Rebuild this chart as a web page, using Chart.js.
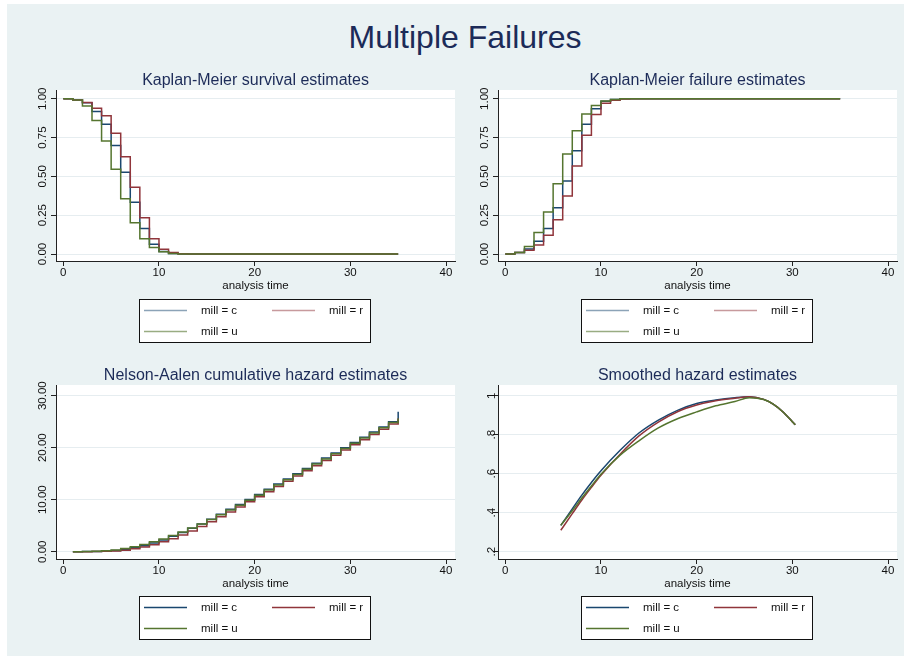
<!DOCTYPE html>
<html>
<head>
<meta charset="utf-8">
<script src="https://cdn.jsdelivr.net/npm/chart.js@4.4.0/dist/chart.umd.min.js"></script>
<style>
html,body{margin:0;padding:0;background:#fff;}
body{width:911px;height:666px;position:relative;overflow:hidden;font-family:"Liberation Sans",Arial,Helvetica,sans-serif;}
#bg{position:absolute;left:7px;top:4px;width:897px;height:652px;background:#eaf2f3;}
#main{position:absolute;left:0;width:930px;top:17px;text-align:center;font-size:32px;line-height:40px;color:#1c2b58;}
canvas{position:absolute;}
</style>
</head>
<body>
<div id="bg"></div>
<div id="main">Multiple Failures</div>
<canvas id="p1" width="460" height="295" style="left:0px;top:60px"></canvas>
<canvas id="p2" width="460" height="295" style="left:442px;top:60px"></canvas>
<canvas id="p3" width="460" height="295" style="left:0px;top:355px"></canvas>
<canvas id="p4" width="460" height="295" style="left:442px;top:355px"></canvas>
<script>
// ---------------- data ----------------
const mills = ['mill = c', 'mill = r', 'mill = u'];

const kmTime = [0, 1, 2, 3, 4, 5, 6, 7, 8, 9, 10, 11, 12, 13, 35];
const kmSurvC = [1, 0.991, 0.974, 0.918, 0.835, 0.698, 0.527, 0.334, 0.165, 0.063, 0.016, 0.004, 0, 0, 0];
const kmSurvR = [1, 0.991, 0.975, 0.938, 0.890, 0.777, 0.626, 0.430, 0.234, 0.099, 0.031, 0.009, 0.002, 0, 0];
const kmSurvU = [1, 0.991, 0.953, 0.859, 0.727, 0.546, 0.355, 0.202, 0.098, 0.042, 0.014, 0.004, 0, 0, 0];

const kmFailC = [0, 0.009, 0.032, 0.082, 0.165, 0.298, 0.470, 0.665, 0.835, 0.936, 0.983, 0.995, 1, 1, 1];
const kmFailR = [0, 0.009, 0.024, 0.058, 0.120, 0.221, 0.373, 0.567, 0.764, 0.899, 0.970, 0.990, 0.998, 1, 1];
const kmFailU = [0, 0.009, 0.049, 0.139, 0.270, 0.453, 0.644, 0.794, 0.901, 0.957, 0.985, 0.995, 1, 1, 1];

const naTime = [1, 2, 3, 4, 5, 6, 7, 8, 9, 10, 11, 12, 13, 14, 15, 16, 17, 18, 19, 20, 21, 22, 23, 24, 25, 26, 27, 28, 29, 30, 31, 32, 33, 34, 35];
const naC = [0.00, 0.02, 0.06, 0.13, 0.25, 0.45, 0.75, 1.15, 1.65, 2.25, 2.95, 3.70, 4.50, 5.35, 6.25, 7.20, 8.15, 9.10, 10.05, 11.00, 12.00, 13.00, 14.00, 15.00, 16.00, 17.00, 18.00, 19.00, 20.00, 21.00, 22.00, 23.00, 24.00, 25.00, 26.90];
const naR = [0.00, 0.01, 0.03, 0.07, 0.15, 0.30, 0.55, 0.90, 1.35, 1.90, 2.50, 3.20, 4.00, 4.85, 5.75, 6.70, 7.65, 8.60, 9.60, 10.55, 11.55, 12.55, 13.55, 14.55, 15.55, 16.55, 17.55, 18.55, 19.55, 20.55, 21.55, 22.55, 23.55, 24.55, 25.60];
const naU = [0.00, 0.02, 0.08, 0.18, 0.35, 0.60, 0.95, 1.40, 1.90, 2.45, 3.10, 3.80, 4.55, 5.35, 6.20, 7.10, 8.00, 8.95, 9.90, 10.85, 11.85, 12.85, 13.85, 14.85, 15.85, 16.85, 17.85, 18.85, 19.85, 20.85, 21.85, 22.85, 23.85, 24.85, 25.60];

const shTime = [5.8, 7, 8, 9, 10, 12, 14, 16, 18, 20, 22, 24, 25.5, 27, 28, 29, 30, 30.3];
const shC = [0.335, 0.420, 0.490, 0.555, 0.615, 0.720, 0.810, 0.875, 0.925, 0.960, 0.978, 0.990, 0.995, 0.981, 0.957, 0.918, 0.867, 0.851];
const shR = [0.310, 0.395, 0.465, 0.530, 0.592, 0.700, 0.795, 0.865, 0.918, 0.952, 0.974, 0.987, 0.995, 0.981, 0.957, 0.918, 0.867, 0.851];
const shU = [0.335, 0.410, 0.475, 0.537, 0.597, 0.695, 0.770, 0.835, 0.882, 0.917, 0.948, 0.970, 0.990, 0.981, 0.957, 0.918, 0.867, 0.851];

const xTickValues = [0, 10, 20, 30, 40];
const xTickLabels = ['0', '10', '20', '30', '40'];
const kmYTickValues = [0, 0.25, 0.5, 0.75, 1];
const kmYTickLabels = ['0.00', '0.25', '0.50', '0.75', '1.00'];
const naYTickValues = [0, 10, 20, 30];
const naYTickLabels = ['0.00', '10.00', '20.00', '30.00'];
const shYTickValues = [0.2, 0.4, 0.6, 0.8, 1];
const shYTickLabels = ['.2', '.4', '.6', '.8', '1'];

// ---------------- style ----------------
const FONT = '"Liberation Sans", Arial, Helvetica, sans-serif';
const FS = 11.5;
const TICK_LEN = 5;
const TXT = '#111111';
const NAVY = '#1c2b58';
const colors = ['#1a476f', '#90353b', '#55752f'];
const colorsFaded = ['rgba(26,71,111,0.5)', 'rgba(144,53,59,0.5)', 'rgba(85,117,47,0.6)'];
const LEG_PAD = 9.5;
const LEG_GAP = 25.4;
const LEG_LINE = 43;

function yPad(labels, offset) {
  const c = document.createElement('canvas').getContext('2d');
  c.font = FS + 'px ' + FONT;
  const w = Math.max.apply(null, labels.map(l => c.measureText(l).width));
  return offset - TICK_LEN - w / 2;
}

const frame = {
  id: 'frame',
  beforeDraw(chart, args, o) {
    const ctx = chart.ctx, ca = chart.chartArea;
    ctx.save();
    ctx.fillStyle = '#ffffff';
    ctx.fillRect(ca.left, ca.top, ca.right - ca.left, ca.bottom - ca.top);
    const bx = ca.left + o.boxDx, by = o.boxTop;
    ctx.fillRect(bx, by, o.boxW, o.boxH);
    ctx.strokeStyle = '#111';
    ctx.lineWidth = 1;
    ctx.strokeRect(Math.round(bx) + 0.5, Math.round(by) + 0.5, o.boxW, o.boxH);
    ctx.restore();
    const lg = chart.legend;
    lg.left = bx + 5 - LEG_PAD - LEG_GAP;
    lg.right = bx + o.boxW + 10;
    lg.top = by + o.row1 - LEG_PAD - FS / 2;
    lg.bottom = by + o.boxH;
    lg.width = lg.right - lg.left;
    lg.height = lg.bottom - lg.top;
  }
};

function makeChart(id, cfg) {
  const datasets = cfg.series.map((ys, i) => ({
    label: mills[i],
    data: cfg.time.map((t, j) => ({x: t, y: ys[j]})),
    borderColor: colors[i],
    borderWidth: 1.5,
    pointRadius: 0,
    fill: false,
    stepped: cfg.stepped ? 'before' : false,
    cubicInterpolationMode: cfg.stepped ? 'default' : 'monotone',
    order: 3 - i
  }));
  const legColors = cfg.faded ? colorsFaded : colors;
  return new Chart(document.getElementById(id), {
    type: 'line',
    data: {datasets},
    plugins: [frame],
    options: {
      responsive: false,
      animation: false,
      events: [],
      layout: {padding: {top: 0, left: 0, right: 5, bottom: cfg.padBottom}},
      plugins: {
        frame: {boxDx: 83, boxTop: cfg.boxTop, boxW: 231, boxH: 43, row1: 11.5},
        tooltip: {enabled: false},
        title: {
          display: true, text: cfg.title, fullSize: false, color: NAVY,
          font: {family: FONT, size: 16, weight: 'normal', lineHeight: 1},
          padding: {top: 13, bottom: 1}
        },
        legend: {
          display: true, position: 'bottom', align: 'start',
          labels: {
            font: {family: FONT, size: FS},
            color: TXT, padding: LEG_PAD,
            boxWidth: LEG_GAP + LEG_LINE + 14 - FS / 2, boxHeight: 0,
            generateLabels: (chart) => chart.data.datasets.map((ds, i) => ({
              text: ds.label, fillStyle: 'rgba(0,0,0,0)', strokeStyle: legColors[i],
              lineWidth: 1.3, lineDash: [0, LEG_GAP, LEG_LINE, 600], lineCap: 'butt',
              hidden: false, datasetIndex: i, fontColor: TXT
            }))
          }
        }
      },
      scales: {
        x: {
          type: 'linear', min: -0.763, max: 40.94,
          afterBuildTicks: (ax) => { ax.ticks = xTickValues.map(v => ({value: v})); },
          afterFit: (ax) => { ax.height = 32; },
          ticks: {autoSkip: false, maxRotation: 0, padding: 0, color: TXT,
                  font: {family: FONT, size: FS},
                  callback: (v, i) => xTickLabels[i]},
          grid: {drawOnChartArea: false, drawTicks: true, tickLength: TICK_LEN, tickColor: '#222', tickWidth: 1},
          border: {display: true, color: '#222', width: 1},
          title: {display: true, text: 'analysis time', color: TXT,
                  font: {family: FONT, size: FS}, padding: {top: 0, bottom: 0}}
        },
        y: {
          type: 'linear', min: cfg.yMin, max: cfg.yMax,
          afterBuildTicks: (ax) => { ax.ticks = cfg.yTicks.map(v => ({value: v})); },
          afterFit: (ax) => { ax.width = 56; },
          ticks: {autoSkip: false, minRotation: 90, maxRotation: 90, crossAlign: 'center',
                  padding: yPad(cfg.yLabels, cfg.yOffset), color: TXT,
                  font: {family: FONT, size: FS},
                  callback: (v, i) => cfg.yLabels[i]},
          grid: {drawOnChartArea: true, color: '#e6edf0', lineWidth: 1, drawTicks: true,
                 tickLength: TICK_LEN, tickColor: '#222', tickWidth: 1},
          border: {display: true, color: '#222', width: 1}
        }
      }
    }
  });
}

makeChart('p1', {
  title: 'Kaplan-Meier survival estimates', time: kmTime, series: [kmSurvC, kmSurvR, kmSurvU],
  stepped: true, faded: true, yMin: -0.045, yMax: 1.056, yTicks: kmYTickValues, yLabels: kmYTickLabels,
  yOffset: 13, padBottom: 31, boxTop: 239
});
makeChart('p2', {
  title: 'Kaplan-Meier failure estimates', time: kmTime, series: [kmFailC, kmFailR, kmFailU],
  stepped: true, faded: true, yMin: -0.045, yMax: 1.056, yTicks: kmYTickValues, yLabels: kmYTickLabels,
  yOffset: 13, padBottom: 31, boxTop: 239
});
makeChart('p3', {
  title: 'Nelson-Aalen cumulative hazard estimates', time: naTime, series: [naC, naR, naU],
  stepped: true, faded: false, yMin: -1.404, yMax: 32.06, yTicks: naYTickValues, yLabels: naYTickLabels,
  yOffset: 13, padBottom: 28, boxTop: 241
});
makeChart('p4', {
  title: 'Smoothed hazard estimates', time: shTime, series: [shC, shR, shU],
  stepped: false, faded: false, yMin: 0.1626, yMax: 1.0549, yTicks: shYTickValues, yLabels: shYTickLabels,
  yOffset: 6.3, padBottom: 28, boxTop: 241
});
</script>
</body>
</html>
